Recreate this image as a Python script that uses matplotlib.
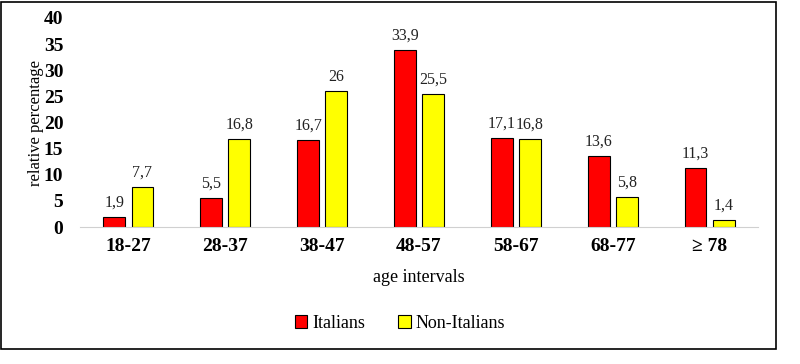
import matplotlib.pyplot as plt
import numpy as np
from matplotlib.patches import Rectangle

plt.rcParams['font.family'] = ['Liberation Serif', 'DejaVu Serif']

categories = ['18-27', '28-37', '38-47', '48-57', '58-67', '68-77', '≥ 78']
italians = [1.9, 5.5, 16.7, 33.9, 17.1, 13.6, 11.3]
non_italians = [7.7, 16.8, 26, 25.5, 16.8, 5.8, 1.4]

fig = plt.figure(figsize=(8, 3.64), dpi=100)
ax = fig.add_axes([80 / 800, 1 - 227 / 364, 678 / 800, 209 / 364])

x = np.arange(len(categories))
w = 0.225
off = 0.145
b1 = ax.bar(x - off, italians, w, color='#ff0000', edgecolor='black', linewidth=0.8, label='Italians')
b2 = ax.bar(x + off, non_italians, w, color='#ffff00', edgecolor='black', linewidth=0.8, label='Non-Italians')

for bars, vals in ((b1, italians), (b2, non_italians)):
    for r, v in zip(bars, vals):
        ax.text(r.get_x() + r.get_width() / 2, v + 1.2, f'{v:g}'.replace('.', ','),
                ha='center', va='bottom', fontsize=11.5, color='#222222')

ax.set_xlim(-0.5, len(categories) - 0.5)
ax.set_ylim(0, 40)
ax.set_yticks(range(0, 41, 5))
ax.set_xticks(x)
ax.set_xticklabels(categories, fontsize=14, fontweight='bold')
ax.tick_params(axis='y', labelsize=14, length=0, pad=12)
ax.tick_params(axis='x', length=0, pad=8)
for lab in ax.get_yticklabels():
    lab.set_fontweight('bold')
for s in ['top', 'right', 'left']:
    ax.spines[s].set_visible(False)
ax.spines['bottom'].set_color('#d0d0d0')
ax.set_ylabel('relative percentage', fontsize=12, labelpad=0)
ax.set_xlabel('age intervals', fontsize=13, labelpad=10)

fig.legend(loc='center', bbox_to_anchor=(400 / 800, 1 - 323 / 364), ncol=2, frameon=False,
           fontsize=13, handlelength=0.7, handleheight=0.7, handletextpad=0.3, columnspacing=1.8)

fig.patches.append(Rectangle((1 / 800, 1 - 349 / 364), 775 / 800, 347 / 364, transform=fig.transFigure,
                             fill=False, edgecolor='black', linewidth=1.2))

fig.savefig('out.png', dpi=100)
